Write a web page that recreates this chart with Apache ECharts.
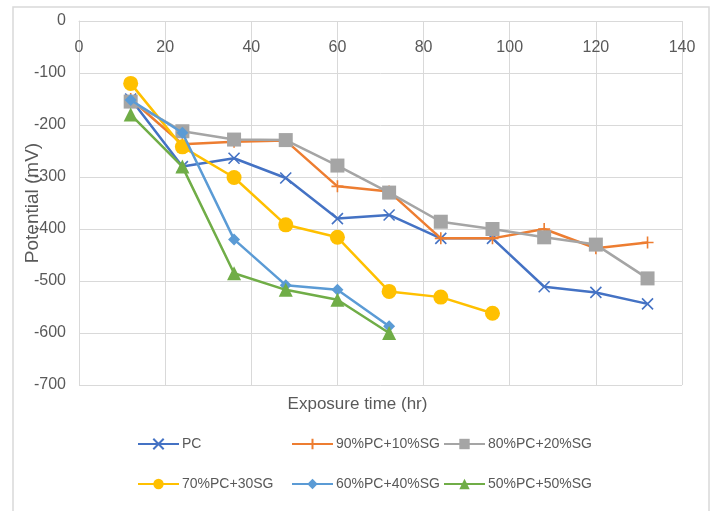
<!DOCTYPE html>
<html><head><meta charset="utf-8">
<script src="https://cdn.jsdelivr.net/npm/echarts@6/dist/echarts.min.js"></script>
<style>html,body{margin:0;padding:0;background:#fff}#c{width:715px;height:511px}</style>
</head><body><div id="c"></div>
<script>
const hours = [12, 24, 36, 48, 60, 72, 84, 96, 108, 120, 132];
const seriesNames = ['PC', '90%PC+10%SG', '80%PC+20%SG', '70%PC+30SG', '60%PC+40%SG', '50%PC+50%SG'];
const pc      = [-150, -280, -264, -302, -380, -373, -418, -418, -511, -522, -544];
const pc90sg10 = [-150, -237, -232, -230, -318, -328, -418, -418, -400, -437, -426];
const pc80sg20 = [-155, -212, -228, -229, -278, -330, -386, -400, -416, -430, -495];
const pc70sg30 = [-120, -242, -301, -392, -416, -520, -531, -562];
const pc60sg40 = [-152, -215, -420, -508, -517, -587];
const pc50sg50 = [-180, -280, -485, -517, -536, -600];
const xTicks = [0, 20, 40, 60, 80, 100, 120, 140];
const yTicks = [-700, -600, -500, -400, -300, -200, -100, 0];

const colors = ['#4472C4', '#ED7D31', '#A5A5A5', '#FFC000', '#5B9BD5', '#70AD47'];
const symbols = [
  'path://M0,0L10,10M10,0L0,10',
  'path://M5,0L5,10M0,5L10,5',
  'rect', 'circle', 'diamond', 'triangle'
];
const sizes = [11, 12, 14, 15, 12, 14];
const allData = [pc, pc90sg10, pc80sg20, pc70sg30, pc60sg40, pc50sg50];
const font = '"Liberation Sans", Arial, sans-serif';
const txt = '#595959';

const series = allData.map((vals, i) => ({
  name: seriesNames[i],
  type: 'line',
  data: vals.map((v, j) => [hours[j], v]),
  symbol: symbols[i],
  symbolSize: sizes[i],
  lineStyle: { width: 2.5, color: colors[i] },
  itemStyle: { color: colors[i], borderColor: colors[i], borderWidth: (i < 2 ? 1.6 : 0) },
  z: 2 + i
}));

const legendPos = [
  [137, 437], [291, 437], [443, 437],
  [137, 477], [291, 477], [443, 477]
];
const legends = seriesNames.map((n, i) => ({
  data: [n],
  left: legendPos[i][0], top: legendPos[i][1],
  itemWidth: 41, itemHeight: 13, itemGap: 0,
  textStyle: { color: txt, fontSize: 14, fontFamily: font, padding: [0, 0, 0, -2] },
  padding: 0
}));

const chart = echarts.init(document.getElementById('c'));
chart.setOption({
  animation: false,
  backgroundColor: '#fff',
  graphic: [
    { type: 'rect', shape: { x: 13, y: 7, width: 696, height: 520 },
      style: { fill: 'none', stroke: '#D9D9D9', lineWidth: 1.5 }, z: -1 },
    { type: 'text', left: 'center', top: 396, z: 10,
      style: { text: 'Exposure time (hr)', fill: txt, fontSize: 17, fontFamily: font } }
  ],
  grid: { left: 79, right: 33, top: 21, bottom: 126, outerBoundsMode: 'none', containLabel: false },
  legend: legends,
  xAxis: {
    type: 'value', position: 'top', min: xTicks[0], max: xTicks[xTicks.length - 1], interval: 20,
    axisLine: { show: true, lineStyle: { color: '#D9D9D9', width: 1 } },
    axisTick: { show: false },
    axisLabel: { inside: true, margin: 19, color: txt, fontSize: 16, fontFamily: font },
    splitLine: { show: true, lineStyle: { color: '#D9D9D9', width: 1 } }
  },
  yAxis: {
    type: 'value', min: yTicks[0], max: yTicks[yTicks.length - 1], interval: 100,
    name: 'Potential (mV)', nameLocation: 'middle', nameGap: 37, nameMoveOverlap: false,
    nameTextStyle: { color: txt, fontSize: 19, fontFamily: font },
    axisLine: { show: true, lineStyle: { color: '#D9D9D9', width: 1 } },
    axisTick: { show: false },
    axisLabel: { margin: 13, color: txt, fontSize: 16, fontFamily: font },
    splitLine: { show: true, lineStyle: { color: '#D9D9D9', width: 1 } }
  },
  series: series
});
</script></body></html>
